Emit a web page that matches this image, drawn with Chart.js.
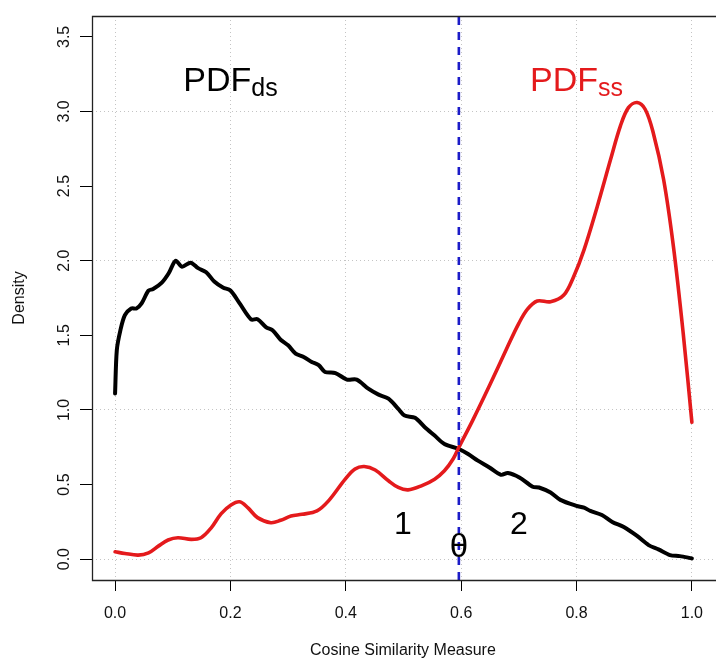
<!DOCTYPE html>
<html>
<head>
<meta charset="utf-8">
<script src="https://cdn.jsdelivr.net/npm/chart.js@4/dist/chart.umd.min.js"></script>
<style>
    html, body { margin: 0; padding: 0; background: #fff; }
    #caja { width: 716px; height: 662px; }
</style>
</head>
<body>
<div id="caja"><canvas id="grafica" width="716" height="662"></canvas></div>
<script>
const fuente = '"Liberation Sans", Arial, sans-serif';

// Ejes
const ticksX = [0, 0.2, 0.4, 0.6, 0.8, 1.0];
const ticksY = [0, 0.5, 1.0, 1.5, 2.0, 2.5, 3.0, 3.5];
const rejillaY = [0, 1, 2, 3];

// PDF_ds (negra)
const dsX = [0, 0.003, 0.009, 0.017, 0.028, 0.037, 0.046, 0.058, 0.066, 0.081, 0.093, 0.105, 0.116, 0.131, 0.144, 0.158, 0.172, 0.187, 0.2, 0.216, 0.236, 0.247, 0.262, 0.273, 0.287, 0.3, 0.313, 0.327, 0.341, 0.353, 0.364, 0.382, 0.402, 0.419, 0.439, 0.456, 0.474, 0.491, 0.502, 0.52, 0.537, 0.554, 0.571, 0.596, 0.612, 0.629, 0.649, 0.669, 0.681, 0.701, 0.724, 0.735, 0.755, 0.772, 0.8, 0.813, 0.824, 0.844, 0.862, 0.882, 0.905, 0.925, 0.942, 0.962, 0.979, 1.0];
const dsY = [1.11, 1.40, 1.53, 1.635, 1.68, 1.68, 1.714, 1.80, 1.81, 1.853, 1.916, 2.00, 1.96, 1.987, 1.95, 1.923, 1.86, 1.82, 1.80, 1.714, 1.606, 1.608, 1.553, 1.534, 1.47, 1.433, 1.377, 1.355, 1.321, 1.30, 1.254, 1.247, 1.203, 1.203, 1.142, 1.104, 1.075, 1.007, 0.962, 0.947, 0.884, 0.828, 0.772, 0.738, 0.705, 0.66, 0.614, 0.565, 0.577, 0.547, 0.485, 0.48, 0.446, 0.397, 0.357, 0.345, 0.323, 0.296, 0.249, 0.215, 0.155, 0.094, 0.065, 0.027, 0.02, 0.005];

// PDF_ss (roja)
const ssX = [0, 0.017, 0.04, 0.058, 0.075, 0.092, 0.109, 0.132, 0.149, 0.167, 0.184, 0.201, 0.216, 0.23, 0.247, 0.27, 0.287, 0.305, 0.324, 0.35, 0.37, 0.399, 0.416, 0.432, 0.451, 0.474, 0.491, 0.508, 0.531, 0.554, 0.571, 0.586, 0.596, 0.62, 0.65, 0.68, 0.70, 0.715, 0.732, 0.755, 0.778, 0.795, 0.813, 0.836, 0.859, 0.876, 0.89, 0.905, 0.919, 0.933, 0.951, 0.968, 0.985, 1.0];
const ssY = [0.049, 0.038, 0.027, 0.042, 0.087, 0.128, 0.143, 0.132, 0.143, 0.211, 0.305, 0.363, 0.384, 0.345, 0.278, 0.244, 0.26, 0.289, 0.30, 0.323, 0.39, 0.536, 0.604, 0.621, 0.597, 0.525, 0.48, 0.464, 0.491, 0.536, 0.592, 0.671, 0.749, 0.93, 1.17, 1.42, 1.58, 1.675, 1.73, 1.725, 1.77, 1.893, 2.073, 2.364, 2.678, 2.902, 3.026, 3.06, 3.015, 2.858, 2.544, 2.095, 1.512, 0.917];

// Umbral theta
const umbral = 0.596;
const limitesY = [-0.14, 3.64];

// Rótulos del gráfico
const rotulos = [
    { texto: "1", x: 0.499, y: 0.165 },
    { texto: "2", x: 0.70, y: 0.165 },
    { texto: "θ", x: umbral, y: 0.013 }
];
const rotulosPdf = [
    { texto: "PDF", sub: "ds", x: 0.2, y: 3.138, color: "#000" },
    { texto: "PDF", sub: "ss", x: 0.8, y: 3.138, color: "#e41a1c" }
];

const puntos = (xs, ys) => xs.map((x, i) => ({ x: x, y: ys[i] }));

const pluginTextos = {
    id: "textos",
    afterDatasetsDraw(chart) {
        const ctx = chart.ctx;
        const ejeX = chart.scales.x;
        const ejeY = chart.scales.y;
        ctx.save();
        ctx.textBaseline = "alphabetic";
        rotulos.forEach((r) => {
            ctx.font = (r.texto === "θ" ? "33px " : "32px ") + fuente;
            ctx.fillStyle = "#000";
            ctx.textAlign = "center";
            ctx.fillText(r.texto, ejeX.getPixelForValue(r.x), ejeY.getPixelForValue(r.y));
        });
        rotulosPdf.forEach((r) => {
            ctx.font = "34px " + fuente;
            const ancho1 = ctx.measureText(r.texto).width;
            ctx.font = "25px " + fuente;
            const ancho2 = ctx.measureText(r.sub).width;
            const izquierda = ejeX.getPixelForValue(r.x) - (ancho1 + ancho2) / 2;
            const base = ejeY.getPixelForValue(r.y);
            ctx.fillStyle = r.color;
            ctx.textAlign = "left";
            ctx.font = "34px " + fuente;
            ctx.fillText(r.texto, izquierda, base);
            ctx.font = "25px " + fuente;
            ctx.fillText(r.sub, izquierda + ancho1, base + 5);
        });
        ctx.restore();
    },
    afterDraw(chart) {
        // marco del gráfico; el borde derecho queda fuera del lienzo
        const { left, top, bottom } = chart.chartArea;
        const ctx = chart.ctx;
        const x0 = Math.round(left) + 0.5;
        const y0 = Math.round(top) + 0.5;
        const y1 = Math.round(bottom) + 0.5;
        ctx.save();
        ctx.strokeStyle = "#222";
        ctx.lineWidth = 1.3;
        ctx.beginPath();
        ctx.moveTo(chart.width + 5, y0);
        ctx.lineTo(x0, y0);
        ctx.lineTo(x0, y1);
        ctx.lineTo(chart.width + 5, y1);
        ctx.stroke();
        ctx.restore();
    }
};

const colorRejilla = "#c4c4c4";

new Chart(document.getElementById("grafica"), {
    type: "line",
    data: {
        datasets: [
            {
                label: "theta",
                data: [{ x: umbral, y: limitesY[0] }, { x: umbral, y: limitesY[1] }],
                borderColor: "#1c1cc8",
                borderWidth: 2.6,
                borderDash: [8, 7],
                pointRadius: 0
            },
            {
                label: "PDF ss",
                data: puntos(ssX, ssY),
                borderColor: "#e41a1c",
                borderWidth: 3.6,
                tension: 0.35,
                borderCapStyle: "round",
                borderJoinStyle: "round",
                pointRadius: 0
            },
            {
                label: "PDF ds",
                data: puntos(dsX, dsY),
                borderColor: "#000",
                borderWidth: 4,
                tension: 0.3,
                borderCapStyle: "round",
                borderJoinStyle: "round",
                pointRadius: 0
            }
        ]
    },
    options: {
        responsive: false,
        animation: false,
        layout: { padding: { top: 16, right: 0, left: 0, bottom: 0 } },
        plugins: {
            legend: { display: false },
            tooltip: { enabled: false }
        },
        scales: {
            x: {
                type: "linear",
                min: -0.04,
                max: 1.038,
                afterBuildTicks: (eje) => { eje.ticks = ticksX.map((v) => ({ value: v })); },
                afterFit: (eje) => { eje.height = 82; },
                border: { display: false, dash: [1, 3] },
                grid: {
                    color: colorRejilla,
                    lineWidth: 1,
                    tickColor: "#000",
                    tickLength: 11,
                    tickWidth: 1
                },
                ticks: {
                    autoSkip: false,
                    maxRotation: 0,
                    padding: 13,
                    color: "#111",
                    font: { family: fuente, size: 16 },
                    callback: (v) => v.toFixed(1)
                },
                title: {
                    display: true,
                    text: "Cosine Similarity Measure",
                    color: "#111",
                    font: { family: fuente, size: 16 },
                    padding: { top: 0, bottom: 2 }
                }
            },
            y: {
                type: "linear",
                min: limitesY[0],
                max: limitesY[1],
                afterBuildTicks: (eje) => { eje.ticks = ticksY.map((v) => ({ value: v })); },
                afterFit: (eje) => { eje.width = 92; },
                border: { display: false, dash: [1, 3] },
                grid: {
                    color: (c) => (c.tick && rejillaY.includes(c.tick.value) ? colorRejilla : "rgba(0,0,0,0)"),
                    lineWidth: 1,
                    tickColor: "#000",
                    tickLength: 12,
                    tickWidth: 1
                },
                ticks: {
                    autoSkip: false,
                    minRotation: 90,
                    maxRotation: 90,
                    crossAlign: "center",
                    padding: 4,
                    color: "#111",
                    font: { family: fuente, size: 16 },
                    callback: (v) => v.toFixed(1)
                },
                title: {
                    display: true,
                    text: "Density",
                    color: "#111",
                    font: { family: fuente, size: 16 },
                    padding: { top: 10, bottom: 0 }
                }
            }
        }
    },
    plugins: [pluginTextos]
});
</script>
</body>
</html>
